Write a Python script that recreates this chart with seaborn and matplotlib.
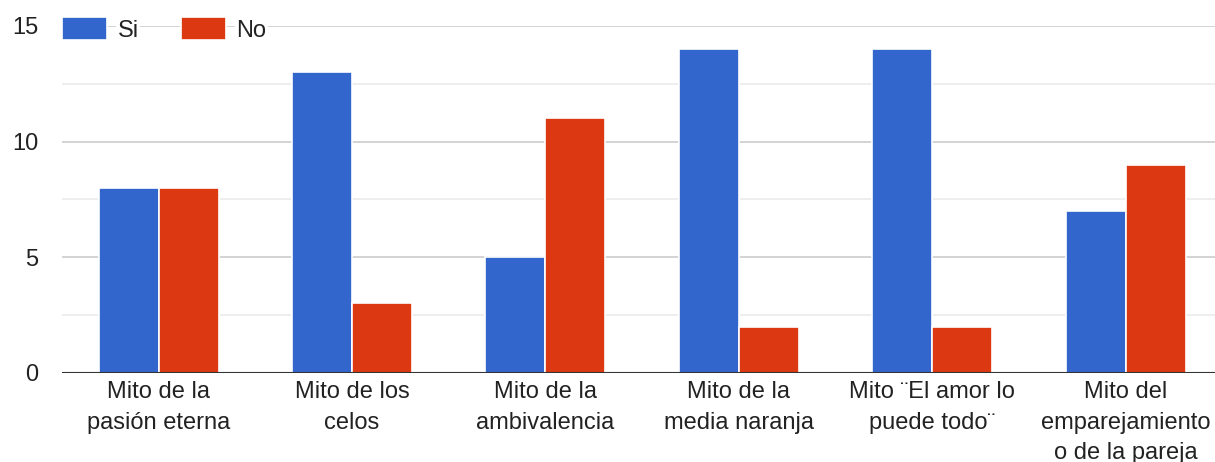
import matplotlib
matplotlib.use("Agg")
import matplotlib.pyplot as plt
import seaborn as sns
import pandas as pd

categories = [
    "Mito de la\npasión eterna",
    "Mito de los\ncelos",
    "Mito de la\nambivalencia",
    "Mito de la\nmedia naranja",
    "Mito ¨El amor lo\npuede todo¨",
    "Mito del\nemparejamiento\no de la pareja",
]
si_values = [8, 13, 5, 14, 14, 7]
no_values = [8, 3, 11, 2, 2, 9]
series = ["Si", "No"]
colors = ["#3366cc", "#dc3912"]

df = pd.DataFrame({
    "cat": categories * 2,
    "val": si_values + no_values,
    "serie": ["Si"] * len(categories) + ["No"] * len(categories),
})

sns.set_style("white")
plt.rcParams["font.family"] = ["Liberation Sans", "DejaVu Sans"]

fig = plt.figure(figsize=(12.15, 4.62), dpi=100)
ax = fig.add_axes([0.051, 0.193, 0.955, 0.751])

sns.barplot(data=df, x="cat", y="val", hue="serie", hue_order=series,
            palette=colors, width=0.62, edgecolor="white", linewidth=1.2,
            saturation=1, ax=ax, zorder=3)

ax.set_ylim(0, 15)
ax.set_xlim(-0.5, len(categories) - 0.5)
ax.set_yticks([0, 5, 10, 15])
ax.set_yticks([2.5, 7.5, 12.5], minor=True)
ax.grid(axis="y", which="major", color="#cccccc", linewidth=1.2, zorder=0)
ax.grid(axis="y", which="minor", color="#ebebeb", linewidth=1.2, zorder=0)
ax.axhline(0, color="#333333", linewidth=1.5, zorder=4)
for s in ax.spines.values():
    s.set_visible(False)

ax.set_xlabel("")
ax.set_ylabel("")
ax.tick_params(axis="both", which="both", length=0, labelsize=17, labelcolor="#222222")
ax.tick_params(axis="y", pad=17)
ax.tick_params(axis="x", pad=6)
for lbl in ax.get_xticklabels():
    lbl.set_linespacing(1.5)
    lbl.set_verticalalignment("top")

leg = ax.legend(loc="center left", bbox_to_anchor=(0.0, 0.99), ncol=2,
                frameon=False, fontsize=17, handlelength=1.9, handleheight=1.1,
                handletextpad=0.45, columnspacing=1.8, borderaxespad=0,
                borderpad=0)
for t in leg.get_texts():
    t.set_color("#222222")
    t.set_bbox(dict(facecolor="white", edgecolor="none", pad=1))
leg.set_zorder(10)

fig.savefig("out.png", dpi=100)
